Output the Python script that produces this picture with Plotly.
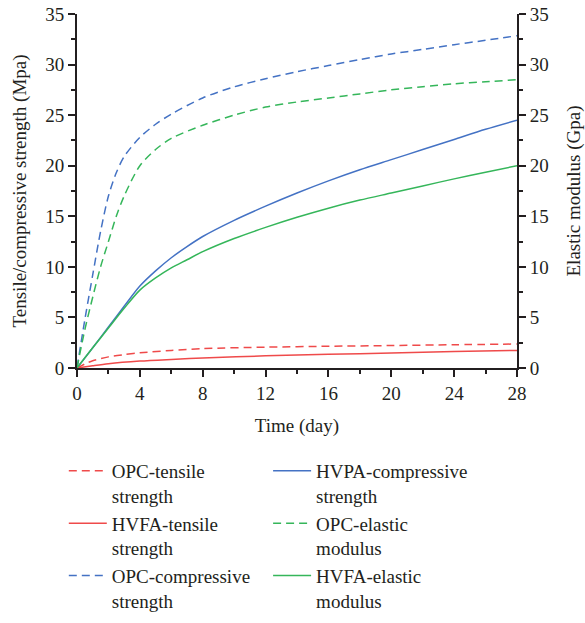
import plotly.graph_objects as go

# ---- data ----
days_opc_comp = [0, 0.5, 1, 1.5, 2, 2.5, 3, 4, 5, 6, 8, 10, 12, 14, 16, 18, 20, 22, 24, 26, 28]
opc_comp = [0, 4.8, 9.2, 13.5, 17.0, 19.3, 20.9, 22.8, 24.1, 25.1, 26.7, 27.8, 28.6, 29.3, 29.9, 30.5, 31.05, 31.5, 31.97, 32.4, 32.85]

days_opc_el = [0, 0.5, 1, 1.5, 2, 2.5, 3, 4, 5, 6, 8, 10, 12, 14, 16, 18, 20, 22, 24, 26, 28]
opc_el = [0, 3.8, 7.0, 10.0, 12.5, 15.0, 17.0, 20.0, 21.6, 22.7, 24.0, 25.0, 25.8, 26.3, 26.7, 27.1, 27.5, 27.8, 28.1, 28.3, 28.5]

days_hv = [0, 1, 2, 3, 4, 5, 6, 7, 8, 10, 12, 14, 16, 18, 20, 22, 24, 26, 28]
hvpa_comp = [0, 2.0, 4.05, 6.1, 8.1, 9.6, 10.9, 12.0, 13.0, 14.6, 16.0, 17.3, 18.5, 19.6, 20.6, 21.6, 22.6, 23.6, 24.5]
hvfa_el = [0, 2.0, 3.95, 5.9, 7.7, 8.9, 9.9, 10.7, 11.5, 12.8, 13.9, 14.9, 15.8, 16.6, 17.3, 18.0, 18.7, 19.35, 20.0]

days_opc_ten = [0, 0.5, 1, 2, 3, 4, 6, 8, 12, 16, 20, 24, 28]
opc_ten = [0, 0.4, 0.72, 1.1, 1.32, 1.5, 1.74, 1.92, 2.06, 2.15, 2.22, 2.3, 2.37]

days_hvfa_ten = [0, 1, 2, 4, 6, 8, 12, 16, 20, 24, 28]
hvfa_ten = [0, 0.22, 0.42, 0.68, 0.85, 1.0, 1.2, 1.35, 1.48, 1.62, 1.74]

x_ticks = [0, 4, 8, 12, 16, 20, 24, 28]
y_ticks = [0, 5, 10, 15, 20, 25, 30, 35]

RED = "#EF4A4A"
BLUE = "#4472C4"
GREEN = "#35B65A"
DASH = "8px,5px"
FONT = "Liberation Serif"
TXT = "#231F20"

fig = go.Figure()

series = [
    # name, x, y, color, dash, axis, legend rank
    ("OPC-tensile<br>strength", days_opc_ten, opc_ten, RED, DASH, "y", 1),
    ("HVPA-compressive<br>strength", days_hv, hvpa_comp, BLUE, "solid", "y", 2),
    ("HVFA-tensile<br>strength", days_hvfa_ten, hvfa_ten, RED, "solid", "y", 3),
    ("OPC-elastic<br>modulus", days_opc_el, opc_el, GREEN, DASH, "y2", 4),
    ("OPC-compressive<br>strength", days_opc_comp, opc_comp, BLUE, DASH, "y", 5),
    ("HVFA-elastic<br>modulus", days_hv, hvfa_el, GREEN, "solid", "y2", 6),
]
for name, xs, ys, col, dash, ax, rank in series:
    fig.add_trace(go.Scatter(
        x=xs, y=ys, name=name, mode="lines", yaxis=ax, legendrank=rank,
        line=dict(color=col, width=1.5, dash=dash, shape="spline", smoothing=0.8),
    ))

axis_common = dict(
    showgrid=False, zeroline=False, showline=True, linecolor=TXT, linewidth=1.8,
    ticks="outside", ticklen=7, tickwidth=1.8, tickcolor=TXT, automargin=False,
    tickfont=dict(family=FONT, size=19, color=TXT),
)

fig.update_layout(
    width=585, height=623,
    margin=dict(l=77, r=68, t=14, b=255, autoexpand=False),
    paper_bgcolor="white", plot_bgcolor="white",
    font=dict(family=FONT, size=19, color=TXT),
    xaxis=dict(range=[0, 28], tickvals=x_ticks,
               minor=dict(dtick=2, ticks="outside", ticklen=4, tickwidth=1.8, tickcolor=TXT),
               title=dict(text="Time (day)", font=dict(family=FONT, size=19, color=TXT), standoff=16),
               **axis_common),
    yaxis=dict(range=[0, 35], tickvals=y_ticks,
               minor=dict(dtick=2.5, ticks="outside", ticklen=4, tickwidth=1.8, tickcolor=TXT),
               title=dict(text="Tensile/compressive strength (Mpa)", font=dict(family=FONT, size=19, color=TXT), standoff=14),
               **axis_common),
    yaxis2=dict(range=[0, 35], tickvals=y_ticks, overlaying="y", side="right",
                minor=dict(dtick=2.5, ticks="outside", ticklen=4, tickwidth=1.8, tickcolor=TXT),
                title=dict(text="Elastic modulus (Gpa)", font=dict(family=FONT, size=19, color=TXT), standoff=20),
                **axis_common),
    showlegend=True,
    legend=dict(orientation="h", x=-0.03, xanchor="left", y=-0.237, yanchor="top",
                valign="top",
                font=dict(family=FONT, size=19, color=TXT), bgcolor="rgba(0,0,0,0)",
                traceorder="normal", itemwidth=38),
)

fig.write_html("out.html")
